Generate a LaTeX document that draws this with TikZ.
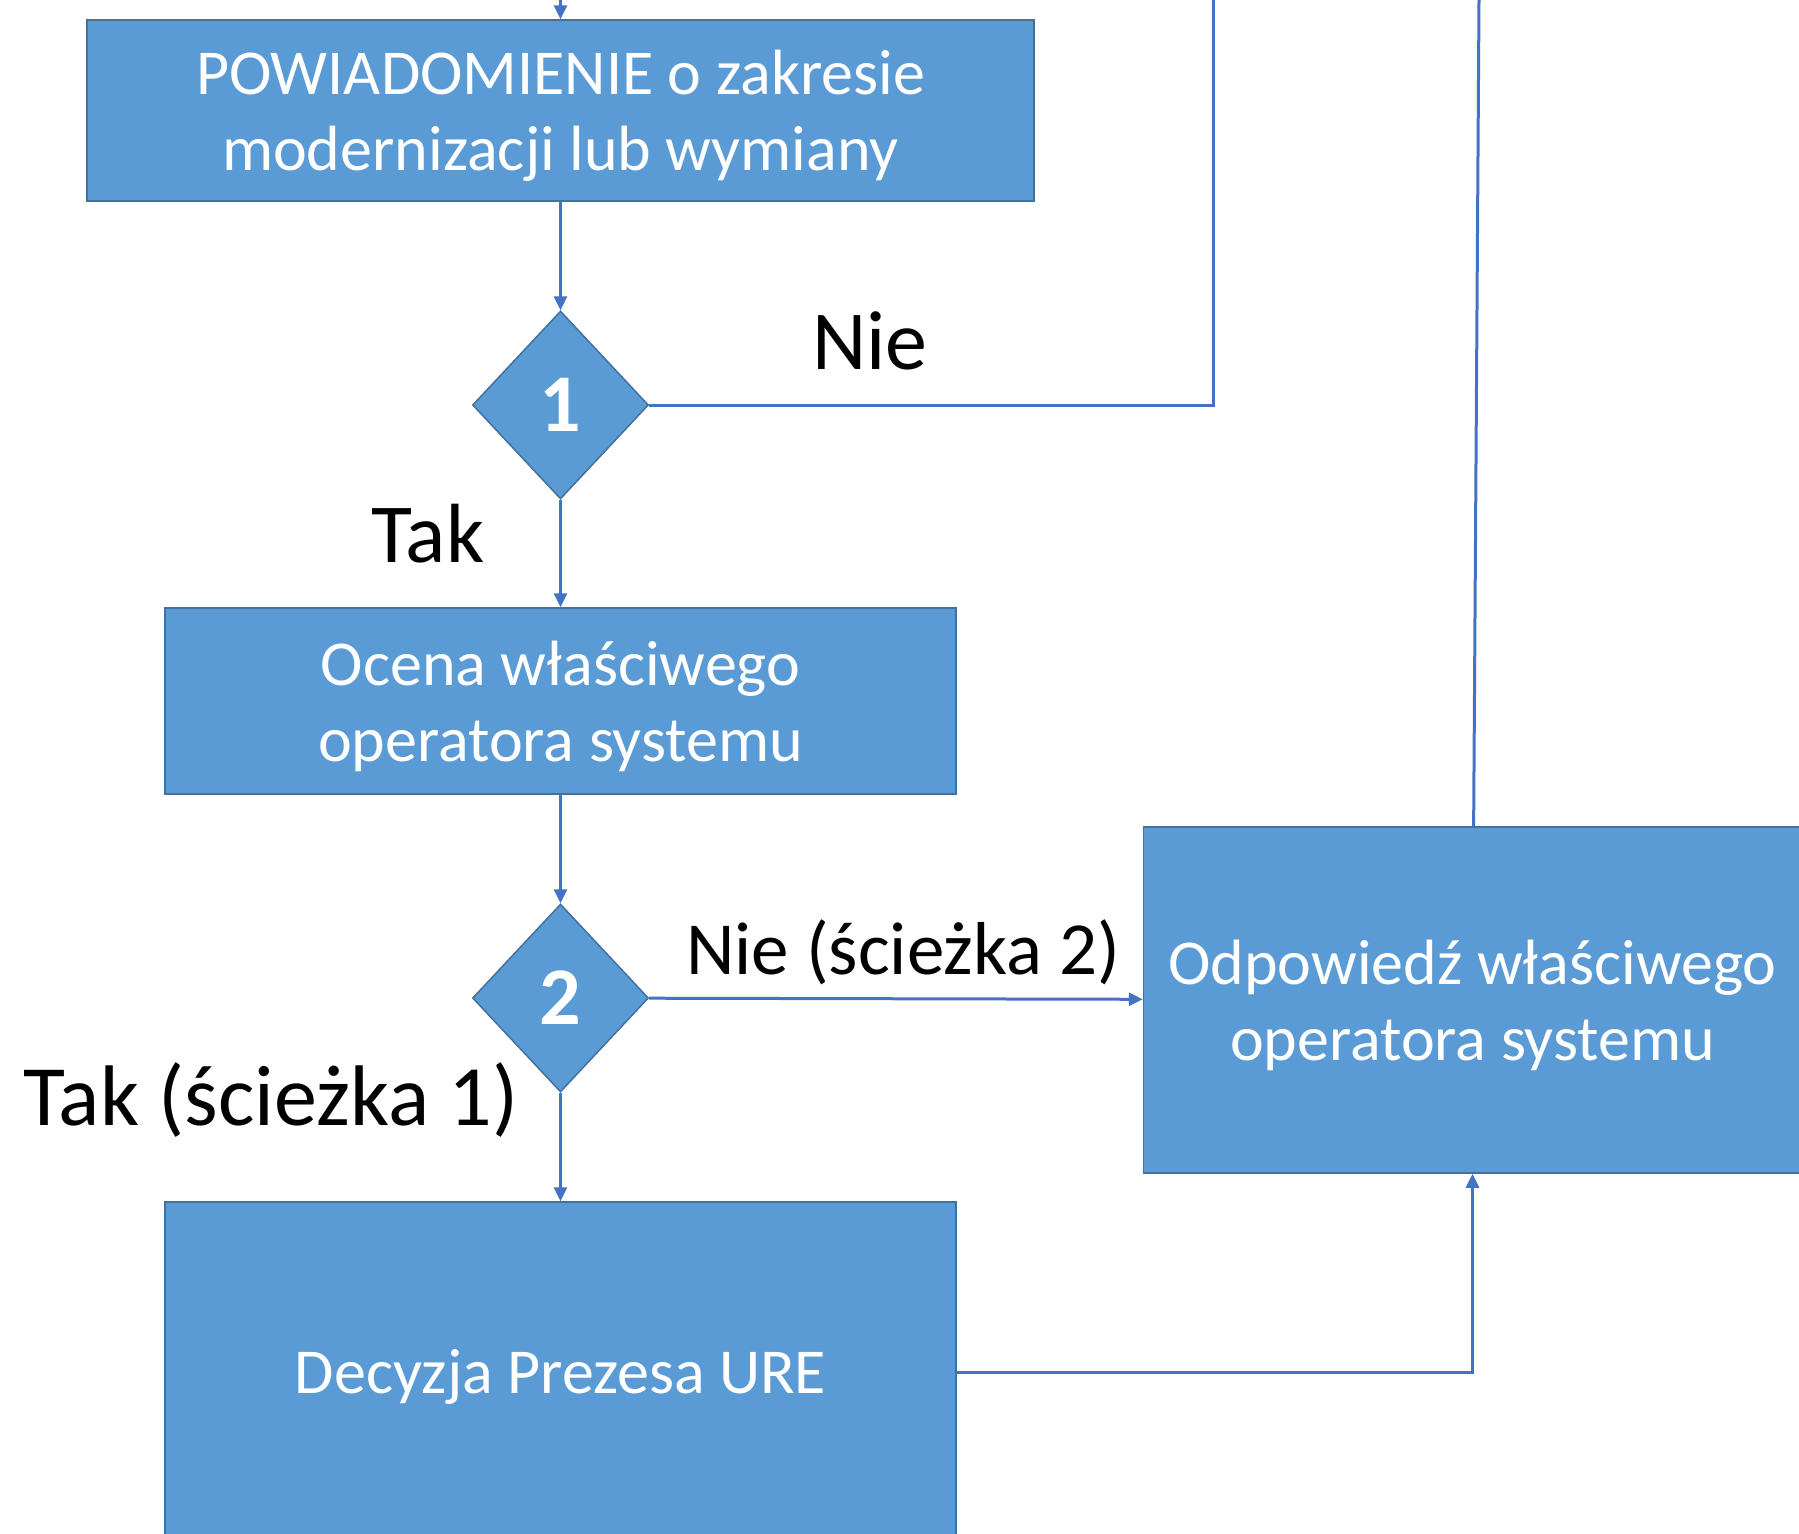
\documentclass[tikz,border=0pt]{standalone}
\usepackage{fontspec}
\setmainfont{Carlito}
\usetikzlibrary{arrows.meta,shapes,positioning}
\definecolor{boxblue}{HTML}{5B9BD5}
\definecolor{boxedge}{HTML}{41719C}
\definecolor{flowline}{HTML}{4472C4}
\newcommand\linestrut{\rule[-0.27em]{0pt}{1.22em}}
\newcommand\firststrut{\rule{0pt}{0.97em}}
\tikzset{
  stepbox/.style={draw=boxedge, line width=0.75pt, fill=boxblue, text=white,
    align=center, inner sep=0pt, font=\fontsize{32}{38}\selectfont,
    execute at begin node=\linestrut, execute at end node=\linestrut},
  choice/.style={diamond, draw=boxedge, line width=0.75pt, fill=boxblue, text=white,
    inner sep=0pt, minimum width=88pt, minimum height=94pt,
    font=\bfseries\fontsize{41}{41}\selectfont},
  flow/.style={draw=flowline, line width=1.5pt},
  lbl/.style={text=black, inner sep=0pt},
}
\begin{document}
\begin{tikzpicture}[->,>={Triangle[length=7pt,width=6.5pt]}, x=0.5pt, y=-0.5pt]
 \useasboundingbox (0,0) rectangle (1799,1533);

 % notice box at the top
 \node[stepbox,
  minimum width=473.5pt, 	% box width
  minimum height=90.5pt] (Notice) at (560.5,110.5)
 {\firststrut POWIADOMIENIE o zakresie\\modernizacji lub wymiany};

 % first decision
 \node[choice, below of=Notice, node distance=147.25pt] (Q1) {1};

 % assessment by the operator
 \node[stepbox,
  below of=Q1,
  node distance=148pt,
  minimum width=395.5pt,
  minimum height=93pt] (Assess)
 {\firststrut Ocena właściwego\\operatora systemu};

 % second decision
 \node[choice, below of=Assess, node distance=148.5pt] (Q2) {2};

 % decision of the president
 \node[stepbox,
  below of=Q2,
  node distance=187pt,
  minimum width=395.5pt,
  minimum height=170pt] (Decision)
 {Decyzja Prezesa URE};

 % reply of the operator
 \node[stepbox,
  right of=Q2,
  node distance=456pt,
  yshift=-1pt,
  minimum width=329pt,
  minimum height=173pt] (Reply)
 {\firststrut Odpowiedź właściwego\\operatora systemu};

 % free ends at the top edge
 \coordinate (inTop) at (560.5,0);
 \coordinate (nieTop) at (1213,0);
 \coordinate (replyTop) at (1479,0);

 % labels of the branches
 \node[lbl, font=\fontsize{42}{42}\selectfont] (NieOne) at (870,341) {Nie};
 \node[lbl, font=\fontsize{42}{42}\selectfont] (TakOne) at (428,534) {Tak};
 \node[lbl, font=\fontsize{37.5}{38}\selectfont] (NieTwo) at (903,952) {Nie (ścieżka 2)};
 \node[lbl, font=\fontsize{43}{43}\selectfont] (TakTwo) at (271,1100) {Tak (ścieżka 1)};

 % connectors
 \draw[flow] (inTop) -- (Notice);
 \draw[flow] (Notice) -- (Q1);
 \draw[flow] (Q1) -- (Assess);
 \draw[flow] (Assess) -- (Q2);
 \draw[flow] (Q2) -- (Decision);
 \draw[flow] (Q2) -- (Reply);
 \draw[flow] (Decision) -| (Reply);
 \draw[flow,-] (Q1) -- (Q1 -| nieTop) -- (nieTop);
 \draw[flow,-] (Reply) -- (replyTop);

\end{tikzpicture}
\end{document}
